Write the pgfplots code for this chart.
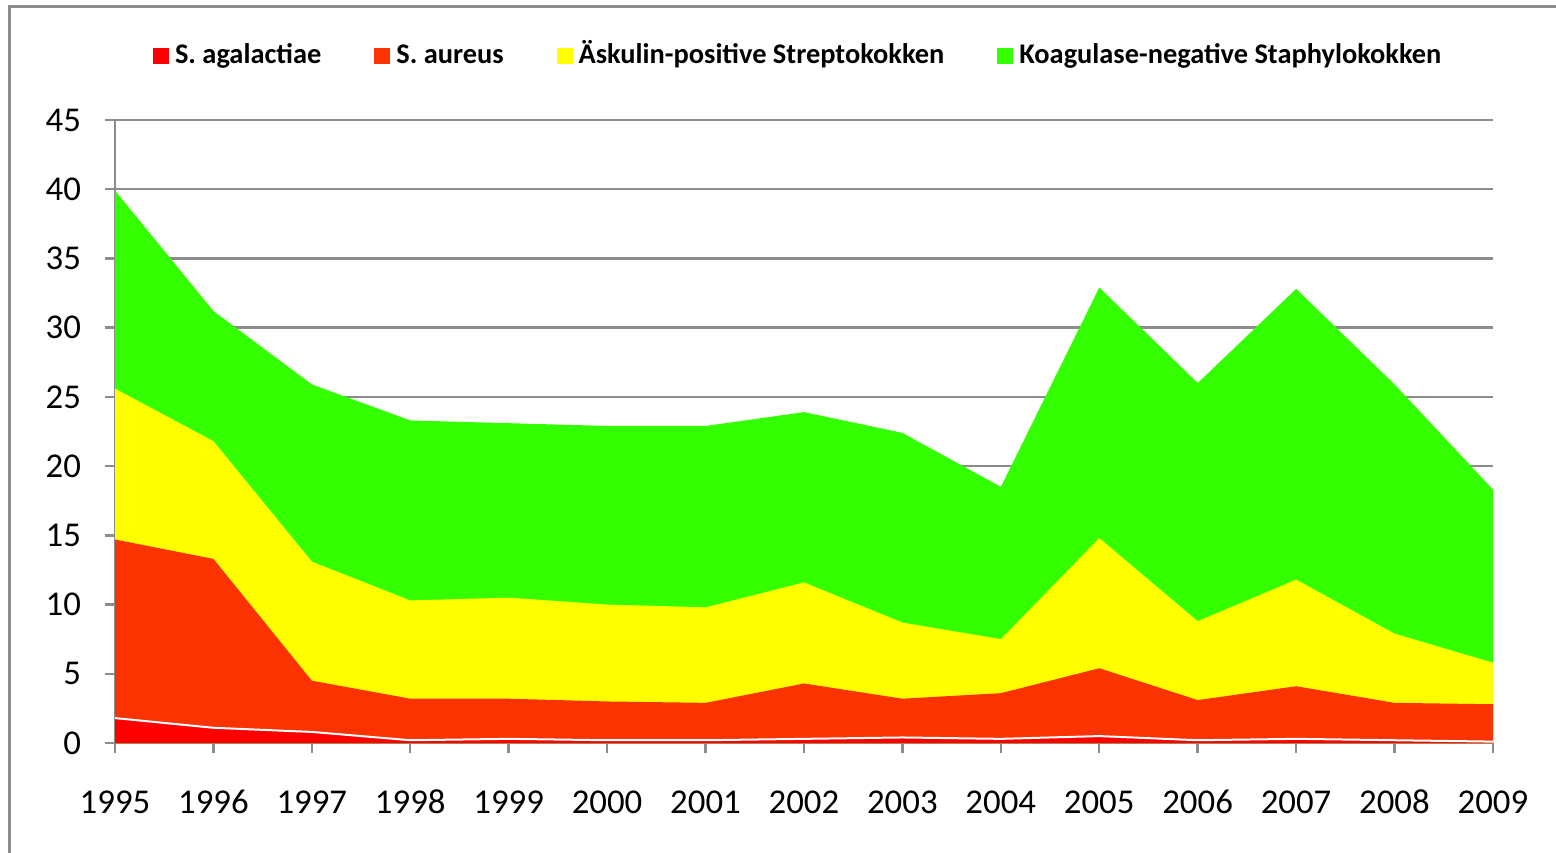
\documentclass[border=0pt]{standalone}
\usepackage{fontspec}
\setmainfont{Carlito}
\usepackage{pgfplots}
\usepackage{pgfplotstable}
\pgfplotsset{compat=1.18}
\definecolor{cAga}{HTML}{FF0000}
\definecolor{cAur}{HTML}{FA3300}
\definecolor{cAes}{HTML}{FFFF00}
\definecolor{cKns}{HTML}{33FF00}
\definecolor{gridgray}{HTML}{8C8C8C}

% cumulative (stacked) heights
\pgfplotstableread{
year aga aur aes kns
1995 1.8 14.7 25.6 39.9
1996 1.1 13.3 21.8 31.2
1997 0.8 4.5 13.1 25.9
1998 0.2 3.2 10.3 23.3
1999 0.3 3.2 10.5 23.1
2000 0.2 3.0 10.0 22.9
2001 0.2 2.9 9.8 22.9
2002 0.3 4.3 11.6 23.9
2003 0.4 3.2 8.7 22.4
2004 0.3 3.6 7.5 18.5
2005 0.5 5.4 14.8 32.9
2006 0.2 3.1 8.8 26.0
2007 0.3 4.1 11.8 32.8
2008 0.2 2.9 7.9 25.9
2009 0.1 2.8 5.8 18.3
}\data

\begin{document}
\begin{tikzpicture}
\path[use as bounding box] (0,0) rectangle (778pt,426pt);
\draw[gridgray, line width=1.5pt] (4.5pt,-2pt) -- (4.5pt,422.5pt) -- (780pt,422.5pt);
\begin{axis}[
  at={(57.5pt,54.5pt)}, anchor=south west,
  scale only axis, width=689pt, height=311.5pt,
  xmin=1995, xmax=2009, ymin=0, ymax=45,
  axis lines*=left,
  axis line style={gridgray, line width=1.2pt},
  xtick={1995,...,2009}, ytick={0,5,...,45},
  ymajorgrids, grid style={gridgray, line width=1.2pt},
  tick align=outside, major tick length=5pt,
  tick style={gridgray, line width=1.2pt},
  /pgf/number format/1000 sep={},
  /pgf/number format/assume math mode=true,
  ticklabel style={font=\fontsize{17.4}{20}\selectfont},
  xticklabel style={yshift=-14.5pt, text height=12pt, text depth=0pt},
  yticklabel style={xshift=-8.5pt},
  legend columns=4,
  legend style={at={(0.4965,1)}, anchor=center, yshift=32pt, draw=none,
    font=\bfseries\fontsize{14.2}{17}\selectfont,
    nodes={text height=10.5pt, text depth=3pt},
    /tikz/every even column/.append style={column sep=24.5pt}},
  legend image code/.code={\fill[#1,draw=none] (0pt,-4pt) rectangle (8pt,4pt);
    \path[draw=none,fill=none] (0pt,0pt) rectangle (9pt,0.1pt);},
]
\addlegendimage{fill=cAga}\addlegendentry{S. agalactiae}
\addlegendimage{fill=cAur}\addlegendentry{S. aureus}
\addlegendimage{fill=cAes}\addlegendentry{Äskulin-positive Streptokokken}
\addlegendimage{fill=cKns}\addlegendentry{Koagulase-negative Staphylokokken}
\addplot[fill=cKns, draw=none, forget plot] table[x=year,y=kns]{\data} \closedcycle;
\addplot[fill=cAes, draw=none, forget plot] table[x=year,y=aes]{\data} \closedcycle;
\addplot[fill=cAur, draw=none, forget plot] table[x=year,y=aur]{\data} \closedcycle;
\addplot[fill=cAga, draw=none, forget plot] table[x=year,y=aga]{\data} \closedcycle;
\addplot[white, line width=1pt, forget plot] table[x=year,y=aga]{\data};
\end{axis}
\end{tikzpicture}
\end{document}
